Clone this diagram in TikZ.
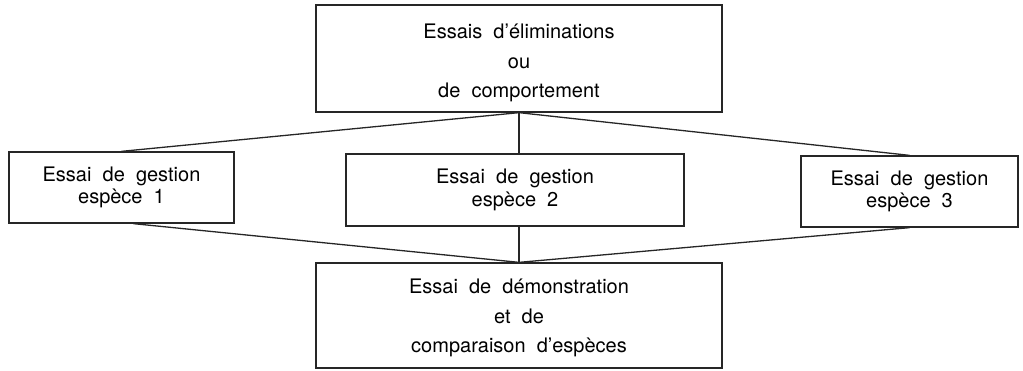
\documentclass[tikz,border=0pt]{standalone}
\usepackage{fontspec}
\setmainfont{TeX Gyre Heros}
\begin{document}
\begin{tikzpicture}[x=1pt,y=-1pt,
  box/.style={draw=black!85, line width=1.3pt, inner sep=0pt, align=center},
  twoline/.style={box, font=\fontsize{20}{22.5}\selectfont},
  threeline/.style={box, font=\fontsize{20}{30}\selectfont},
  label3/.style={align=center, font=\fontsize{20}{29.5}\selectfont},
  conn/.style={draw=black!85, line width=1.3pt}]
\useasboundingbox (0,0) rectangle (1023,370);
\node[threeline, minimum width=406pt, minimum height=107pt] (top) at (519,58.5) {};
\node[label3] (toptext) at (519,63)
  {Essais\ \ d'éliminations\\ou\\de\ \ comportement};
\node[twoline, minimum width=225pt, minimum height=71pt] (l) at (121.5,187.5)
  {Essai\ \ de\ \ gestion\\espèce\ \ 1};
\node[twoline, minimum width=338pt, minimum height=72pt] (m) at (515,190)
  {Essai\ \ de\ \ gestion\\espèce\ \ 2};
\node[twoline, minimum width=217pt, minimum height=71pt] (r) at (909.5,191.5)
  {Essai\ \ de\ \ gestion\\espèce\ \ 3};
\node[threeline, minimum width=406pt, minimum height=105pt] (bot) at (519,315.5) {};
\node[label3] (bottext) at (519,318)
  {Essai\ \ de\ \ démonstration\\et\ \ de\\comparaison\ \ d'espèces};
\coordinate (tj) at (top.south);
\coordinate (bj) at (bot.north);
\draw[conn] (tj) -- (l.north);
\draw[conn] (tj) -- (r.north);
\draw[conn] (tj) -- (tj |- m.north);
\draw[conn] ([xshift=12pt]l.south) -- (bj);
\draw[conn] (r.south) -- (bj);
\draw[conn] (bj |- m.south) -- (bj);
\end{tikzpicture}
\end{document}
